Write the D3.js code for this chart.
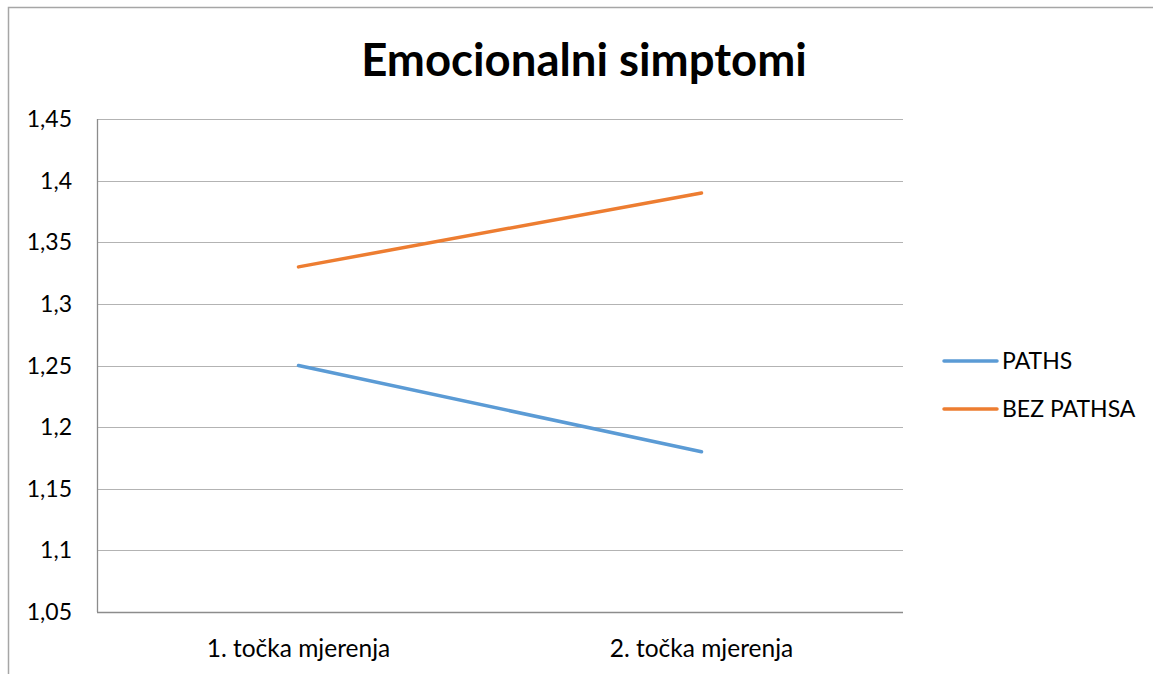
<!DOCTYPE html>
<html lang="hr">
<head>
<meta charset="UTF-8">
<title>Emocionalni simptomi</title>
<script src="https://d3js.org/d3.v7.min.js"></script>
<style>
    body { margin: 0; background: #fff; }
    svg { display: block; font-family: Lato, "Open Sans", sans-serif; }
</style>
</head>
<body>
<div id="chart"></div>
<script>
    const categories = ["1. točka mjerenja", "2. točka mjerenja"];
    const seriesNames = ["PATHS", "BEZ PATHSA"];
    const pathsValues = [1.25, 1.18];
    const bezPathsaValues = [1.33, 1.39];
    const yTicks = [1.05, 1.1, 1.15, 1.2, 1.25, 1.3, 1.35, 1.4, 1.45];
    const colors = ["#5b9bd5", "#ed7d31"];

    const width = 1153, height = 674;
    const margin = { top: 119, right: 250, bottom: 62, left: 97 };

    const svg = d3.select("#chart").append("svg")
        .attr("width", width)
        .attr("height", height);

    // outer chart frame (runs off the page on the right and bottom)
    svg.append("rect")
        .attr("x", 8.5).attr("y", 7.5)
        .attr("width", width + 20).attr("height", height + 20)
        .attr("fill", "none")
        .attr("stroke", "#a6a6a6")
        .attr("stroke-width", 1.5);

    svg.append("text")
        .attr("x", 584).attr("y", 76)
        .attr("text-anchor", "middle")
        .attr("font-size", 45.5)
        .attr("font-weight", "bold")
        .text("Emocionalni simptomi");

    const x = d3.scaleBand()
        .domain(categories)
        .range([margin.left, width - margin.right]);

    const y = d3.scaleLinear()
        .domain([1.05, 1.45])
        .range([height - margin.bottom, margin.top]);

    const fmt = d => d3.format("~r")(d).replace(".", ",");

    // gridlines
    svg.append("g")
        .selectAll("line")
        .data(yTicks.slice(1))
        .join("line")
        .attr("x1", margin.left).attr("x2", width - margin.right)
        .attr("y1", d => Math.round(y(d)) + 0.5).attr("y2", d => Math.round(y(d)) + 0.5)
        .attr("stroke", "#b3b3b3")
        .attr("stroke-width", 1.2);

    // y tick labels
    svg.append("g")
        .selectAll("text")
        .data(yTicks)
        .join("text")
        .attr("x", 72)
        .attr("y", d => y(d))
        .attr("dy", "0.35em")
        .attr("text-anchor", "end")
        .attr("font-size", 23)
        .attr("fill", "#000")
        .text(fmt);

    // axes lines
    svg.append("line")
        .attr("x1", margin.left + 0.5).attr("x2", margin.left + 0.5)
        .attr("y1", margin.top).attr("y2", height - margin.bottom)
        .attr("stroke", "#8c8c8c").attr("stroke-width", 1.3);
    svg.append("line")
        .attr("x1", margin.left).attr("x2", width - margin.right)
        .attr("y1", height - margin.bottom + 0.5).attr("y2", height - margin.bottom + 0.5)
        .attr("stroke", "#8c8c8c").attr("stroke-width", 1.3);

    // category labels
    svg.append("g")
        .selectAll("text")
        .data(categories)
        .join("text")
        .attr("x", d => x(d) + x.bandwidth() / 2)
        .attr("y", 657)
        .attr("text-anchor", "middle")
        .attr("font-size", 24.5)
        .text(d => d);

    const series = [pathsValues, bezPathsaValues];
    const line = d3.line()
        .x((d, i) => x(categories[i]) + x.bandwidth() / 2)
        .y(d => y(d));

    svg.append("g")
        .selectAll("path")
        .data(series)
        .join("path")
        .attr("d", line)
        .attr("fill", "none")
        .attr("stroke", (d, i) => colors[i])
        .attr("stroke-width", 3.5)
        .attr("stroke-linecap", "round");

    // legend
    const legend = svg.append("g")
        .selectAll("g")
        .data(seriesNames)
        .join("g")
        .attr("transform", (d, i) => `translate(944,${361 + i * 48})`);
    legend.append("line")
        .attr("x1", 0).attr("x2", 53)
        .attr("stroke", (d, i) => colors[i])
        .attr("stroke-width", 3.5)
        .attr("stroke-linecap", "round");
    legend.append("text")
        .attr("x", 58)
        .attr("dy", "0.35em")
        .attr("font-size", 23)
        .text(d => d);
</script>
</body>
</html>
